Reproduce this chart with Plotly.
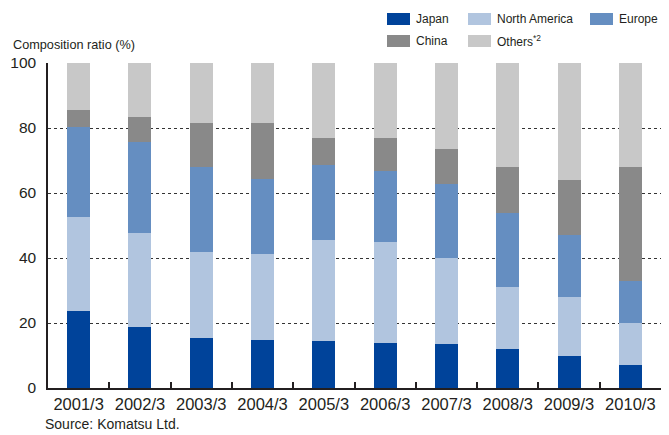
import plotly.graph_objects as go

categories = ["2001/3", "2002/3", "2003/3", "2004/3", "2005/3",
              "2006/3", "2007/3", "2008/3", "2009/3", "2010/3"]
japan = [23.7, 18.8, 15.4, 14.8, 14.5, 13.9, 13.6, 12.0, 9.9, 7.1]
north_america = [28.9, 28.9, 26.4, 26.4, 31.0, 31.0, 26.4, 19.1, 18.1, 12.9]
europe = [27.7, 28.1, 26.2, 23.1, 23.0, 21.9, 22.8, 22.7, 19.1, 13.0]
china = [5.2, 7.6, 13.5, 17.2, 8.4, 10.1, 10.7, 14.2, 16.9, 35.0]
others = [14.5, 16.6, 18.5, 18.5, 23.1, 23.1, 26.5, 32.0, 36.0, 32.0]
y_ticks = [0, 20, 40, 60, 80, 100]

series = [
    ("Japan", japan, "#00439A"),
    ("North America", north_america, "#B1C5DF"),
    ("Europe", europe, "#658EC1"),
    ("China", china, "#898989"),
    ("Others<sup>*2</sup>", others, "#C8C8C8"),
]

FONT = "Liberation Sans Narrow, Arial Narrow, Liberation Sans, Arial, sans-serif"
TXT = "#231F20"
W, H = 669, 435
L, R, T, B = 48, 8, 63, 47
PW, PH = W - L - R, H - T - B

def px(x):
    return (x - L) / PW

def py(y):
    return (H - B - y) / PH

fig = go.Figure()
for name, vals, col in series:
    fig.add_trace(go.Bar(x=categories, y=vals, name=name, marker_color=col,
                         marker_line_width=0, showlegend=False))

shapes = []
annotations = []
legend_items = [
    ("Japan", "#00439A", 387, 13),
    ("North America", "#B1C5DF", 468, 13),
    ("Europe", "#658EC1", 590, 13),
    ("China", "#898989", 387, 35),
    ("Others<sup>*2</sup>", "#C8C8C8", 468, 35),
]
for text, col, x0, y0 in legend_items:
    shapes.append(dict(type="rect", xref="paper", yref="paper",
                       x0=px(x0), x1=px(x0 + 23), y0=py(y0 + 12), y1=py(y0),
                       fillcolor=col, line_width=0))
    annotations.append(dict(text=text, xref="paper", yref="paper",
                            x=px(x0 + 27), y=py(y0 + 6), xanchor="left",
                            yanchor="middle", showarrow=False,
                            font=dict(family=FONT, size=12, color=TXT)))

annotations.append(dict(text="Composition ratio (%)", xref="paper", yref="paper",
                        x=px(11), y=py(45), xanchor="left", yanchor="middle",
                        showarrow=False, font=dict(family=FONT, size=12.7, color=TXT)))
annotations.append(dict(text="Source: Komatsu Ltd.", xref="paper", yref="paper",
                        x=px(43), y=py(424), xanchor="left", yanchor="middle",
                        showarrow=False, font=dict(family=FONT, size=14, color=TXT)))

fig.update_layout(
    barmode="stack",
    bargap=0.625,
    width=W, height=H,
    margin=dict(l=L, r=R, t=T, b=B, pad=0),
    plot_bgcolor="white", paper_bgcolor="white",
    font=dict(family=FONT, color=TXT),
    shapes=shapes,
    annotations=annotations,
    hovermode=False,
    xaxis=dict(showline=True, linecolor=TXT, linewidth=1.5,
               ticks="inside", tickson="boundaries", ticklen=6,
               tickcolor=TXT, tickwidth=1.5,
               tickfont=dict(family=FONT, size=16.5, color=TXT),
               showgrid=False, mirror=False),
    yaxis=dict(range=[0, 100], tickvals=y_ticks, showline=True,
               linecolor=TXT, linewidth=1.5, ticks="",
               showgrid=True, gridcolor="#333333", griddash="dot", gridwidth=1,
               tickfont=dict(family=FONT, size=15.5, color=TXT),
               zeroline=False, ticklabelstandoff=7),
)

fig.write_html("out.html", config={"displayModeBar": False},
               post_script="document.body.style.margin='0';")
